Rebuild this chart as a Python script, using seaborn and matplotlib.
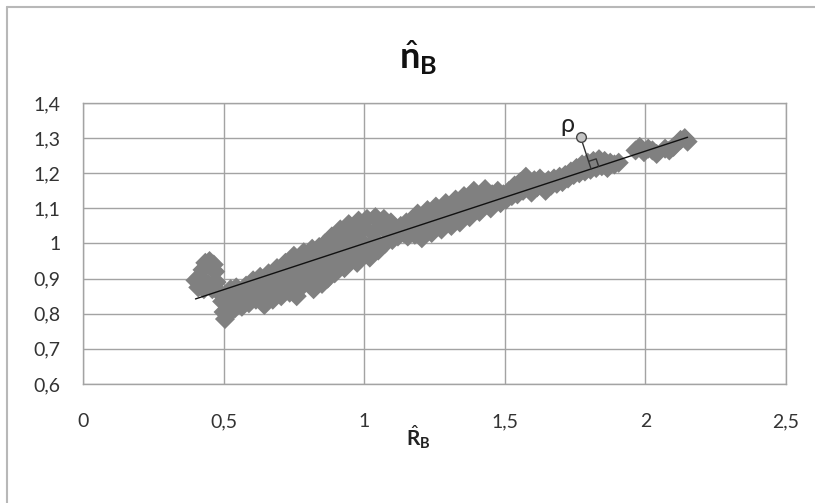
import numpy as np
import matplotlib
matplotlib.use("Agg")
import matplotlib.pyplot as plt
from matplotlib.lines import Line2D
import seaborn as sns
import pandas as pd

# Estimated R_B values (x) and matching n_B values (y)
r_hat = [
    0.400, 0.410, 0.415, 0.425, 0.435, 0.450, 0.465, 0.470, 0.430, 0.445, 0.460, 0.475,
    0.485, 0.495, 0.500, 0.505, 0.515, 0.520, 0.510, 0.525, 0.535, 0.540, 0.550, 0.545, 0.555,
    0.565, 0.575, 0.580, 0.590, 0.600, 0.605, 0.615, 0.625, 0.630, 0.640, 0.645, 0.650, 0.660, 0.665,
    0.675, 0.680, 0.690, 0.700, 0.705, 0.715, 0.720, 0.730, 0.735, 0.745, 0.750, 0.755, 0.760,
    0.770, 0.775, 0.785, 0.790, 0.800, 0.805, 0.815, 0.820, 0.825, 0.835, 0.840, 0.845, 0.850,
    0.860, 0.865, 0.870, 0.880, 0.885, 0.895, 0.900, 0.905, 0.915, 0.920, 0.930, 0.935, 0.945, 0.950,
    0.960, 0.965, 0.975, 0.980, 0.985, 0.995, 1.000, 1.010, 1.015, 1.020, 1.030, 1.040, 1.045, 1.050,
    1.060, 1.070, 1.075, 1.085, 1.095, 1.100, 1.110, 1.120, 1.130, 1.140, 1.150, 1.155,
    1.165, 1.175, 1.180, 1.190, 1.200, 1.205, 1.215, 1.225, 1.230, 1.240, 1.245, 1.255,
    1.265, 1.275, 1.280, 1.290, 1.300, 1.310, 1.315, 1.325, 1.330, 1.340, 1.345, 1.355,
    1.365, 1.375, 1.380, 1.390, 1.400, 1.410, 1.420, 1.430, 1.440, 1.450, 1.455,
    1.465, 1.475, 1.485, 1.495, 1.505, 1.515, 1.525, 1.535, 1.545, 1.555,
    1.565, 1.575, 1.585, 1.595, 1.605, 1.615, 1.625, 1.635, 1.645, 1.655,
    1.665, 1.675, 1.685, 1.695, 1.705, 1.715, 1.725, 1.735, 1.745, 1.755,
    1.765, 1.775, 1.785, 1.795, 1.805, 1.815, 1.825, 1.835, 1.845, 1.855, 1.865, 1.875, 1.890, 1.905,
    1.965, 1.980, 1.995, 2.010, 2.025, 2.040,
    2.070, 2.085, 2.100,
    2.125, 2.140, 2.150,
]
n_hat = [
    0.895, 0.875, 0.905, 0.925, 0.945, 0.950, 0.940, 0.920, 0.870, 0.885, 0.870, 0.890,
    0.860, 0.835, 0.805, 0.785, 0.800, 0.825, 0.850, 0.870, 0.845, 0.815, 0.830, 0.875, 0.860,
    0.820, 0.845, 0.880, 0.830, 0.860, 0.895, 0.840, 0.875, 0.905, 0.850, 0.825, 0.885, 0.915, 0.860,
    0.840, 0.895, 0.930, 0.870, 0.850, 0.910, 0.945, 0.885, 0.860, 0.925, 0.965, 0.900, 0.850,
    0.945, 0.875, 0.975, 0.920, 0.890, 0.955, 0.985, 0.870, 0.930, 0.905, 0.990, 0.960, 0.885,
    1.000, 0.935, 0.900, 0.970, 1.020, 0.915, 0.950, 1.000, 1.040, 0.975, 0.930, 1.015, 1.055, 0.960,
    0.990, 1.040, 0.945, 1.065, 1.010, 0.965, 1.045, 1.070, 0.990, 0.960, 1.030, 1.075, 1.005, 0.980,
    1.050, 1.070, 1.000, 1.030, 1.060, 1.010, 1.045, 1.020, 1.050, 1.030, 1.060, 1.020,
    1.045, 1.070, 1.025, 1.085, 1.040, 1.015, 1.065, 1.095, 1.045, 1.030, 1.075, 1.105,
    1.060, 1.040, 1.090, 1.115, 1.070, 1.050, 1.100, 1.125, 1.080, 1.060, 1.110, 1.135,
    1.090, 1.075, 1.120, 1.150, 1.105, 1.090, 1.130, 1.155, 1.115, 1.100, 1.140,
    1.125, 1.150, 1.115, 1.140, 1.125, 1.150, 1.135, 1.165, 1.140, 1.175,
    1.150, 1.190, 1.165, 1.145, 1.180, 1.160, 1.185, 1.165, 1.150, 1.180,
    1.165, 1.185, 1.170, 1.190, 1.175, 1.195, 1.185, 1.205, 1.195, 1.215,
    1.200, 1.225, 1.205, 1.230, 1.210, 1.235, 1.215, 1.240, 1.220, 1.235, 1.215, 1.230, 1.225, 1.230,
    1.265, 1.275, 1.260, 1.270, 1.265, 1.255,
    1.270, 1.265, 1.275,
    1.295, 1.300, 1.290,
]

# Linear trend line coefficients
trend_intercept = 0.737
trend_slope = 0.263

# Distance illustration: point rho above the trend line
rho_point = (1.77, 1.302)
rho_label_pos = (1.722, 1.34)

x_ticks = [0, 0.5, 1, 1.5, 2, 2.5]
x_tick_labels = ["0", "0,5", "1", "1,5", "2", "2,5"]
y_ticks = [0.6, 0.7, 0.8, 0.9, 1.0, 1.1, 1.2, 1.3, 1.4]
y_tick_labels = ["0,6", "0,7", "0,8", "0,9", "1", "1,1", "1,2", "1,3", "1,4"]

sns.set_style("white")
plt.rcParams["font.family"] = ["Lato", "DejaVu Sans"]
plt.rcParams["mathtext.fontset"] = "custom"
plt.rcParams["mathtext.rm"] = "Lato"
plt.rcParams["mathtext.it"] = "Lato:italic"
plt.rcParams["mathtext.bf"] = "Lato:bold"

W, H = 815, 503
fig, ax = plt.subplots(figsize=(W / 100, H / 100), dpi=100)
fig.subplots_adjust(left=83 / W, right=786 / W, top=1 - 103 / H, bottom=1 - 384 / H)

grid_col = "#a3a3a3"
df = pd.DataFrame({"R": r_hat, "n": n_hat})
sns.scatterplot(data=df, x="R", y="n", marker="D", s=105, color="#808080",
                edgecolor="none", linewidth=0, ax=ax, zorder=3)

x_fit = np.array([min(r_hat), max(r_hat)])
y_fit = trend_intercept + trend_slope * x_fit
sns.lineplot(x=x_fit, y=y_fit, color="#111111", linewidth=1.0, ax=ax, zorder=4)

ax.set_xlim(0, 2.5)
ax.set_ylim(0.6, 1.4)
ax.set_xticks(x_ticks)
ax.set_xticklabels(x_tick_labels)
ax.set_yticks(y_ticks)
ax.set_yticklabels(y_tick_labels)
ax.set_xlabel("")
ax.set_ylabel("")
ax.grid(True, color=grid_col, linewidth=1.0)
ax.set_axisbelow(True)
for sp in ax.spines.values():
    sp.set_visible(True)
    sp.set_color(grid_col)
    sp.set_linewidth(1.0)
ax.tick_params(axis="both", direction="out", length=5, width=1.0, color=grid_col,
               labelsize=14, labelcolor="#333333")
ax.tick_params(axis="x", pad=16)
ax.tick_params(axis="y", pad=11)

# Perpendicular from rho to the trend line, with a right-angle mark
to_px = ax.transData.transform
to_data = ax.transData.inverted().transform
p0, p1 = to_px((x_fit[0], y_fit[0])), to_px((x_fit[1], y_fit[1]))
u = (p1 - p0) / np.linalg.norm(p1 - p0)
c = to_px(rho_point)
foot = p0 + np.dot(c - p0, u) * u
nrm = (c - foot) / np.linalg.norm(c - foot)
side = 8
perp = to_data(np.array([c, foot]))
ax.plot(perp[:, 0], perp[:, 1], color="#333333", linewidth=1.0, zorder=5)
sq = to_data(np.array([foot + side * u, foot + side * u + side * nrm, foot + side * nrm]))
ax.plot(sq[:, 0], sq[:, 1], color="#333333", linewidth=1.0, zorder=5)
ax.plot([rho_point[0]], [rho_point[1]], marker="o", markersize=7,
        markerfacecolor="#c4c4c4", markeredgecolor="#444444", markeredgewidth=1.0, zorder=6)
ax.text(rho_label_pos[0], rho_label_pos[1], "ρ", fontsize=18, color="#222222",
        ha="center", va="center", family=["Lato", "DejaVu Sans"], zorder=6)

# Title and axis label
fig.text(418 / W, 1 - 58 / H, r"$\hat{\mathbf{n}}_{\mathbf{B}}$", ha="center", va="center",
         fontsize=26, color="#111111")
fig.text(418 / W, 1 - 437 / H, r"$\hat{\mathbf{R}}_{\mathbf{B}}$", ha="center", va="center",
         fontsize=15, color="#222222")

# Chart-area frame
fig.add_artist(Line2D([7 / W, 7 / W], [0, 1 - 7 / H], transform=fig.transFigure,
                      color="#b8b8b8", linewidth=1.5))
fig.add_artist(Line2D([7 / W, 1], [1 - 7 / H, 1 - 7 / H], transform=fig.transFigure,
                      color="#b8b8b8", linewidth=1.5))

fig.savefig("out.png", dpi=100)
